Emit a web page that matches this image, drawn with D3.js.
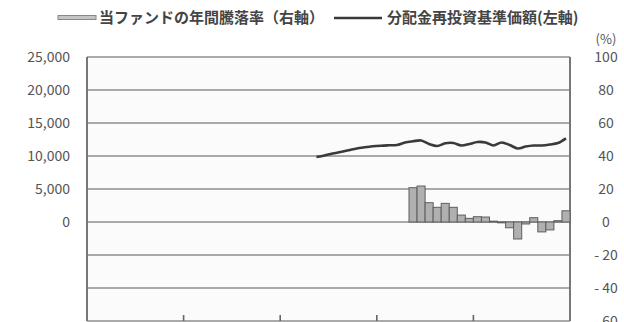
<!DOCTYPE html>
<html>
<head>
<meta charset="utf-8">
<script src="https://cdn.jsdelivr.net/npm/d3@7"></script>
<style>
  body { margin: 0; background: #fff; }
  svg text { font-family: "Noto Sans CJK JP", "Noto Sans", sans-serif; }
</style>
</head>
<body>
<svg id="chart" width="624" height="322"></svg>
<script>
// 60 monthly slots, 5 years
const monthCount = 60;
const yearTicks = [12, 24, 36, 48];

// 分配金再投資基準価額 (left axis), starts at month 28
const navStart = 28;
const navValues = [9850, 10080, 10380, 10600, 10860, 11140, 11320, 11470, 11560, 11620,
	11670, 12050, 12230, 12350, 11820, 11520, 11920, 11970, 11590, 11820,
	12120, 12050, 11590, 12050, 11670, 11140, 11440, 11590, 11590, 11740,
	11970, 12680];

// 年間騰落率 % (right axis), starts at month 40
const retStart = 40;
const retValues = [20.8, 21.8, 11.7, 8.9, 11.3, 8.9, 4.2, 2.2, 3.2, 3.0,
	0.5, -0.5, -3.5, -10.3, -1.2, 2.6, -6.0, -4.8, 0.8, 6.8];

const leftTicks = [0, 5000, 10000, 15000, 20000, 25000];
const gridTicks = [-15000, -10000, -5000, 0, 5000, 10000, 15000, 20000, 25000];
const rightTicks = [-60, -40, -20, 0, 20, 40, 60, 80, 100];

const legendLabels = ['当ファンドの年間騰落率（右軸）', '分配金再投資基準価額(左軸)'];

const svg = d3.select('#chart');
const plot = {left: 87, right: 570, top: 57, bottom: 321};

const x = d3.scaleBand()
	.domain(d3.range(monthCount))
	.range([plot.left, plot.right])
	.padding(0);
const yLeft = d3.scaleLinear().domain([-15000, 25000]).range([plot.bottom, plot.top]);
const yRight = d3.scaleLinear().domain([-60, 100]).range([plot.bottom, plot.top]);

svg.append('rect')
	.attr('x', plot.left).attr('y', plot.top)
	.attr('width', plot.right - plot.left).attr('height', plot.bottom - plot.top)
	.attr('fill', '#fbfbfb');

// gridlines
svg.append('g').selectAll('line')
	.data(gridTicks)
	.join('line')
	.attr('x1', plot.left).attr('x2', plot.right)
	.attr('y1', d => yLeft(d)).attr('y2', d => yLeft(d))
	.attr('stroke', '#8e8e8e').attr('stroke-width', 1.6);

// frame sides
svg.append('g').selectAll('line')
	.data([plot.left, plot.right])
	.join('line')
	.attr('x1', d => d).attr('x2', d => d)
	.attr('y1', plot.top).attr('y2', plot.bottom)
	.attr('stroke', '#777').attr('stroke-width', 2);

// year ticks on bottom axis
svg.append('g').selectAll('line')
	.data(yearTicks)
	.join('line')
	.attr('x1', d => x(d)).attr('x2', d => x(d))
	.attr('y1', plot.bottom).attr('y2', plot.bottom - 6)
	.attr('stroke', '#666').attr('stroke-width', 1.6);

// bars
svg.append('g').selectAll('rect')
	.data(retValues)
	.join('rect')
	.attr('x', (d, i) => x(retStart + i))
	.attr('width', x.bandwidth())
	.attr('y', d => yRight(Math.max(0, d)))
	.attr('height', d => Math.abs(yRight(d) - yRight(0)))
	.attr('fill', '#b0b0b0')
	.attr('stroke', '#5e5e5e')
	.attr('stroke-width', 1);

// NAV line
const line = d3.line()
	.x((d, i) => x(navStart + i) + x.bandwidth() / 2)
	.y(d => yLeft(d))
	.curve(d3.curveCatmullRom);
svg.append('path')
	.datum(navValues)
	.attr('d', line)
	.attr('fill', 'none')
	.attr('stroke', '#3a3a3a')
	.attr('stroke-width', 2.6);

// left axis labels
svg.append('g').selectAll('text')
	.data(leftTicks)
	.join('text')
	.attr('x', 70).attr('y', d => yLeft(d))
	.attr('dy', '0.35em')
	.attr('text-anchor', 'end')
	.attr('font-size', 14)
	.attr('fill', '#555')
	.text(d3.format(','));

// right axis labels
svg.append('g').selectAll('text')
	.data(rightTicks)
	.join('text')
	.attr('x', 606).attr('y', d => yRight(d))
	.attr('dy', '0.35em')
	.attr('text-anchor', 'middle')
	.attr('font-size', 14)
	.attr('fill', '#555')
	.text(d => d < 0 ? '- ' + Math.abs(d) : d);

svg.append('text')
	.attr('x', 606).attr('y', 39)
	.attr('dy', '0.35em')
	.attr('text-anchor', 'middle')
	.attr('font-size', 13)
	.attr('fill', '#555')
	.text('(%)');

// legend
const lg = svg.append('g');
lg.append('rect')
	.attr('x', 58).attr('y', 15.5).attr('width', 38).attr('height', 4)
	.attr('fill', '#c4c4c4').attr('stroke', '#888').attr('stroke-width', 1);
lg.append('text')
	.attr('x', 99).attr('y', 18).attr('dy', '0.35em')
	.attr('font-size', 15).attr('font-weight', 'bold').attr('fill', '#444')
	.text(legendLabels[0]);
lg.append('line')
	.attr('x1', 334).attr('x2', 382).attr('y1', 18).attr('y2', 18)
	.attr('stroke', '#3a3a3a').attr('stroke-width', 2.6);
lg.append('text')
	.attr('x', 387).attr('y', 18).attr('dy', '0.35em')
	.attr('font-size', 15).attr('font-weight', 'bold').attr('fill', '#444')
	.text(legendLabels[1]);
</script>
</body>
</html>
